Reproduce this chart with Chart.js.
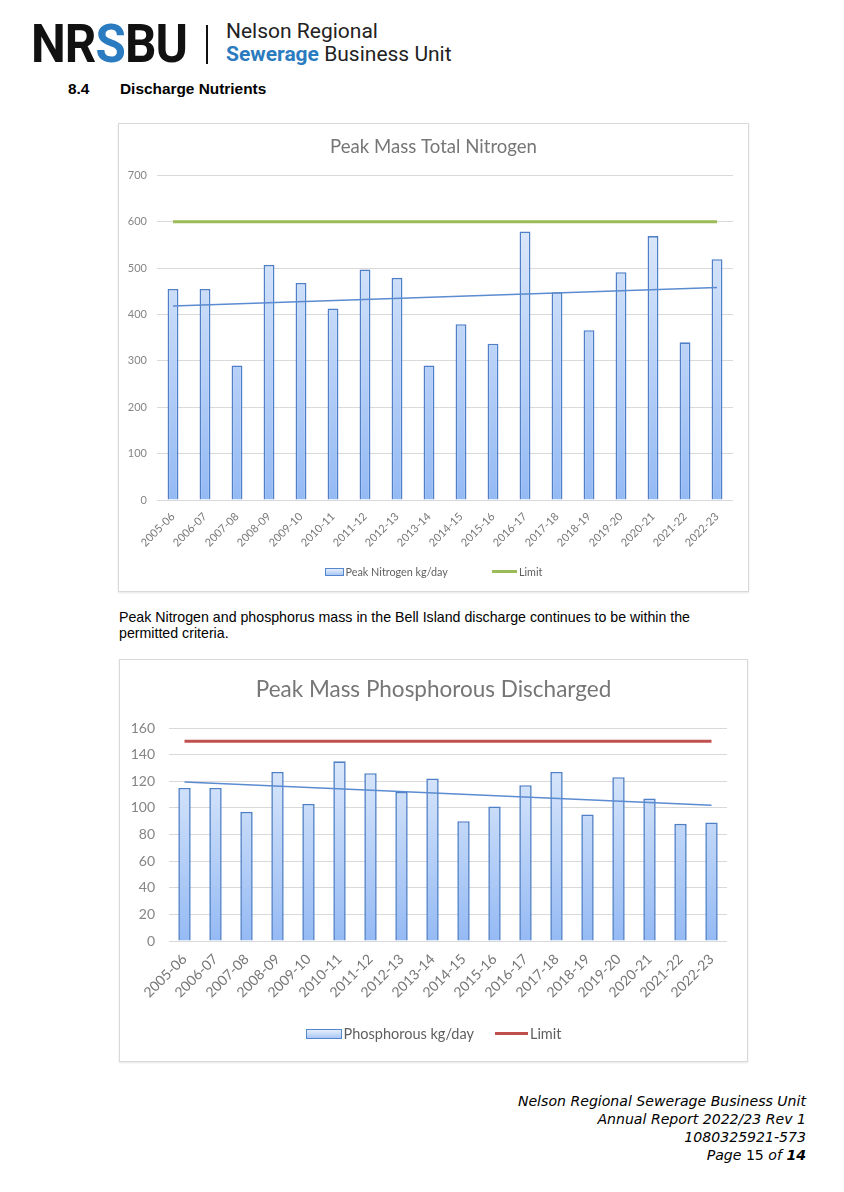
<!DOCTYPE html>
<html>
<head>
<meta charset="utf-8">
<script src="https://cdn.jsdelivr.net/npm/chart.js@4.4.0/dist/chart.umd.min.js"></script>
<style>
  body { margin: 0; background: #fff; width: 844px; height: 1192px; position: relative; overflow: hidden; }
  .abs { position: absolute; }
  #logo { left: 31px; top: 14px; font-family: Roboto, sans-serif; font-weight: 700; font-size: 53px; letter-spacing: -1px; color: #111; line-height: 60px; transform: scaleX(0.93); transform-origin: left top; }
  #logo span { color: #2b7bc0; }
  #sep { left: 206px; top: 25px; width: 2px; height: 39px; background: #111; }
  #unit { left: 226px; top: 20px; font-family: Roboto, sans-serif; font-size: 21px; line-height: 23px; color: #222; }
  #unit b { color: #2b7bc0; font-weight: 700; }
  .heading { top: 80px; font-family: "Liberation Sans", Arial, sans-serif; font-weight: bold; font-size: 15.4px; }
  #para { left: 119px; top: 610px; font-family: "Liberation Sans", Arial, sans-serif; font-size: 14.2px; line-height: 15.5px; color: #000; }
  .box { border: 1px solid #d9d9d9; box-sizing: border-box; background: #fff; box-shadow: 0 1px 2px #e6e6e6; }
  .legend { left: 0; right: 0; display: flex; justify-content: center; align-items: center; font-family: Lato, sans-serif; color: #5f5f5f; white-space: nowrap; }
  .legend .item { display: flex; align-items: center; }
  .legend .bar { display: inline-block; box-sizing: border-box; border: 1.5px solid #5585cc; background: linear-gradient(#e6effc, #a9c8f6); }
  .legend .line { display: inline-block; }
  #footer { right: 38px; top: 1092px; text-align: right; font-family: "DejaVu Sans", Verdana, sans-serif; font-style: italic; font-size: 14.1px; line-height: 18px; color: #000; }
</style>
</head>
<body>
<div id="logo" class="abs">NR<span>S</span>BU</div>
<div id="sep" class="abs"></div>
<div id="unit" class="abs">Nelson Regional<br><b>Sewerage</b> Business Unit</div>
<div class="abs heading" style="left:68px">8.4</div>
<div class="abs heading" style="left:120px">Discharge Nutrients</div>

<div class="abs box" style="left:118px; top:123px; width:631px; height:469px;">
  <canvas id="nitrogenChart"></canvas>
  <div id="nitrogenLegend" class="abs legend" style="top:441px; font-size:10.8px;"></div>
</div>

<div id="para" class="abs">Peak Nitrogen and phosphorus mass in the Bell Island discharge continues to be within the<br>permitted criteria.</div>

<div class="abs box" style="left:119px; top:659px; width:629px; height:403px;">
  <canvas id="phosphorusChart"></canvas>
  <div id="phosphorusLegend" class="abs legend" style="top:365px; font-size:14.5px;"></div>
</div>

<div id="footer" class="abs">Nelson Regional Sewerage Business Unit<br>Annual Report 2022/23 Rev 1<br>1080325921-573<br>Page <span style="font-style:normal">15</span> of <b>14</b></div>

<script>
'use strict';

var seasons = ['2005-06', '2006-07', '2007-08', '2008-09', '2009-10', '2010-11', '2011-12', '2012-13', '2013-14',
    '2014-15', '2015-16', '2016-17', '2017-18', '2018-19', '2019-20', '2020-21', '2021-22', '2022-23'];

var nitrogenPeak = [455, 455, 290, 507, 468, 413, 497, 479, 290, 379, 337, 579, 448, 366, 491, 569, 340, 519];
var nitrogenLimit = [600, 600];      // first and last season
var nitrogenTrend = [418, 458];      // trendline, first and last season
var nitrogenTicks = [0, 700, 100];   // min, max, step

var phosphorusPeak = [115, 115, 97, 127, 103, 135, 126, 112, 122, 90, 101, 117, 127, 95, 123, 107, 88, 89];
var phosphorusLimit = [150, 150];
var phosphorusTrend = [119.5, 102];
var phosphorusTicks = [0, 160, 20];

var FONT = 'Lato, "Open Sans", sans-serif';

var barFill = function (context) {
    var chart = context.chart;
    var area = chart.chartArea;
    if (!area) {
        return '#c4d9f8';
    }
    var gradient = chart.ctx.createLinearGradient(0, area.top, 0, area.bottom);
    gradient.addColorStop(0, '#e8f0fc');
    gradient.addColorStop(1, '#95baf4');
    return gradient;
};

var endPoints = function (values) {
    return [
        { x: seasons[0], y: values[0] },
        { x: seasons[seasons.length - 1], y: values[1] }
    ];
};

// html legend, trend line left out like in the report
var showLegend = function (chart, id, cfg) {
    var html = '';
    chart.data.datasets.forEach(function (ds) {
        if (ds.label === 'Trend') {
            return;
        }
        if (ds.type === 'bar') {
            html += '<span class="item"><span class="bar" style="width:' + cfg.iconWidth + 'px;height:' + cfg.iconHeight + 'px"></span>' +
                '<span style="margin-left:2px">' + ds.label + '</span></span>';
        } else {
            html += '<span class="item" style="margin-left:' + cfg.legendGap + 'px"><span class="line" style="width:' + cfg.lineWidth +
                'px;height:2.5px;background:' + ds.borderColor + '"></span><span style="margin-left:2px">' + ds.label + '</span></span>';
        }
    });
    document.getElementById(id).innerHTML = html;
};

var makeChart = function (id, cfg) {
    var ctx = document.getElementById(id).getContext('2d');
    var chart = new Chart(ctx, {
        type: 'bar',
        data: {
            labels: seasons,
            datasets: [
                {
                    type: 'bar',
                    label: cfg.barLabel,
                    data: cfg.values,
                    backgroundColor: barFill,
                    borderColor: '#4f7fc6',
                    borderWidth: 1.6,
                    barPercentage: cfg.barPct,
                    categoryPercentage: 1,
                    order: 3
                },
                {
                    type: 'line',
                    label: 'Limit',
                    data: endPoints(cfg.limit),
                    borderColor: cfg.limitColor,
                    borderWidth: 3,
                    pointRadius: 0,
                    order: 1
                },
                {
                    type: 'line',
                    label: 'Trend',
                    data: endPoints(cfg.trend),
                    borderColor: '#5b8bd0',
                    borderWidth: 1.5,
                    pointRadius: 0,
                    order: 2
                }
            ]
        },
        options: {
            responsive: true,
            maintainAspectRatio: false,
            animation: false,
            layout: { padding: 0 },
            plugins: {
                title: {
                    display: true,
                    text: cfg.title,
                    color: '#767676',
                    font: { family: FONT, size: cfg.titleSize, weight: 'normal' },
                    padding: { top: cfg.titleTop, bottom: cfg.titleBottom }
                },
                legend: { display: false },
                tooltip: { enabled: false }
            },
            scales: {
                x: {
                    grid: { display: false },
                    border: { display: false },
                    ticks: {
                        color: '#777',
                        font: { family: FONT, size: cfg.xSize },
                        minRotation: 45,
                        maxRotation: 45,
                        padding: 2,
                        autoSkip: false
                    },
                    afterFit: function (scale) { scale.height = cfg.xHeight; }
                },
                y: {
                    min: cfg.ticks[0],
                    max: cfg.ticks[1],
                    grid: { color: '#d9d9d9', drawTicks: false, lineWidth: 1 },
                    border: { display: false },
                    ticks: {
                        stepSize: cfg.ticks[2],
                        color: '#858585',
                        padding: cfg.yPad,
                        font: { family: FONT, size: cfg.ySize }
                    },
                    afterFit: function (scale) { scale.width = cfg.yWidth; }
                },
                // empty right-hand axis, only keeps the gap after the last bar
                gap: {
                    type: 'linear',
                    position: 'right',
                    grid: { display: false, drawTicks: false },
                    border: { display: false },
                    ticks: { display: false },
                    afterFit: function (scale) { scale.width = cfg.gapRight; }
                }
            }
        }
    });
    showLegend(chart, cfg.legendId, cfg);
    return chart;
};

makeChart('nitrogenChart', {
    title: 'Peak Mass Total Nitrogen',
    barLabel: 'Peak Nitrogen kg/day',
    values: nitrogenPeak,
    limit: nitrogenLimit,
    trend: nitrogenTrend,
    ticks: nitrogenTicks,
    limitColor: '#9bbb59',
    barPct: 0.34,
    titleSize: 18.6, titleTop: 12, titleBottom: 17,
    xSize: 11, ySize: 11,
    yWidth: 38, yPad: 10, gapRight: 15,
    xHeight: 91,
    legendId: 'nitrogenLegend', iconWidth: 19, iconHeight: 8, lineWidth: 25, legendGap: 44
});

makeChart('phosphorusChart', {
    title: 'Peak Mass Phosphorous Discharged',
    barLabel: 'Phosphorous kg/day',
    values: phosphorusPeak,
    limit: phosphorusLimit,
    trend: phosphorusTrend,
    ticks: phosphorusTicks,
    limitColor: '#c0504d',
    barPct: 0.4,
    titleSize: 22.5, titleTop: 16, titleBottom: 25,
    xSize: 14, ySize: 14,
    yWidth: 49, yPad: 14, gapRight: 20,
    xHeight: 120,
    legendId: 'phosphorusLegend', iconWidth: 36, iconHeight: 10, lineWidth: 33, legendGap: 21
});
</script>
</body>
</html>
